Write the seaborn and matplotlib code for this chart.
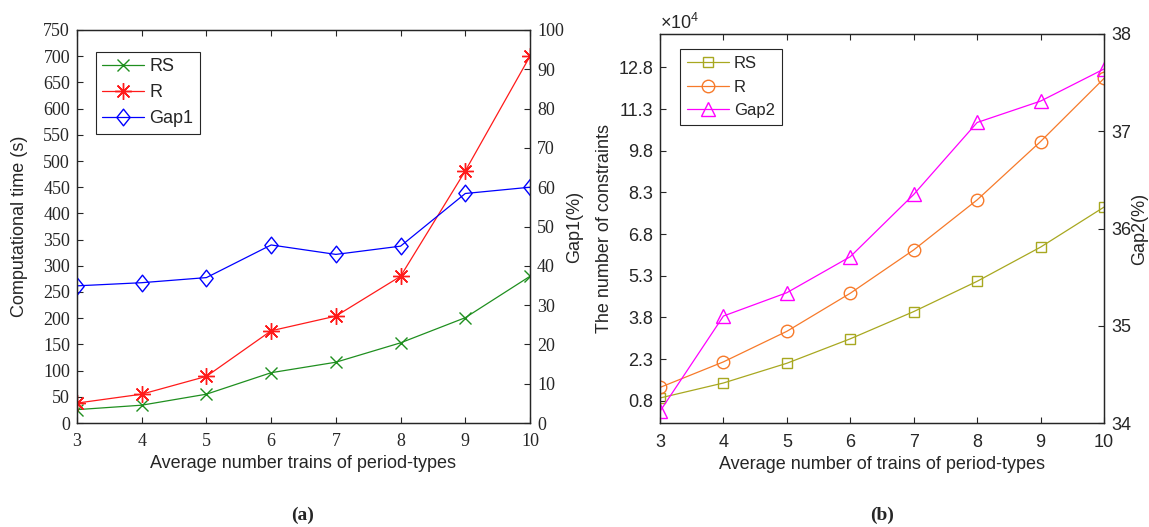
import matplotlib
matplotlib.use("Agg")
import matplotlib.pyplot as plt
from matplotlib.path import Path
import seaborn as sns

# ---- data -------------------------------------------------------------
trains = [3, 4, 5, 6, 7, 8, 9, 10]

# (a) computational time (s) and Gap1 (%)
time_rs = [25.5, 34, 55, 96, 116, 153, 201, 280]
time_r = [38, 55, 89, 176, 204, 280, 481, 700]
gap1 = [34.9, 35.7, 37.0, 45.3, 42.9, 45.0, 58.4, 60.0]

# (b) number of constraints (x10^4) and Gap2 (%)
cons_rs = [0.90, 1.44, 2.15, 3.03, 4.01, 5.10, 6.33, 7.77]
cons_r = [1.28, 2.20, 3.30, 4.67, 6.23, 8.03, 10.13, 12.40]
gap2 = [34.12, 35.10, 35.34, 35.71, 36.35, 37.09, 37.31, 37.64]

left_ticks_a = list(range(0, 751, 50))
right_ticks_a = list(range(0, 101, 10))
left_ticks_b = [0.8, 2.3, 3.8, 5.3, 6.8, 8.3, 9.8, 11.3, 12.8]
right_ticks_b = [34, 35, 36, 37, 38]

# ---- style ------------------------------------------------------------
sns.set_style("ticks")
plt.rcParams["font.family"] = ["Liberation Sans", "DejaVu Sans"]
plt.rcParams["mathtext.fontset"] = "custom"
plt.rcParams["mathtext.rm"] = "Liberation Sans"
plt.rcParams["mathtext.it"] = "Liberation Sans:italic"

AX_COLOR = "#262626"
SERIF = ["Liberation Serif", "DejaVu Serif"]

# a slightly tall diamond, like the classic MATLAB 'd' marker
DIAMOND = Path([(0, 1), (0.8, 0), (0, -1), (-0.8, 0), (0, 1)],
               [Path.MOVETO, Path.LINETO, Path.LINETO, Path.LINETO, Path.CLOSEPOLY])

fig = plt.figure(figsize=(11.49, 5.27), dpi=100)
W, H = 1149, 527


def px_axes(x0, y0, x1, y1):
    return fig.add_axes([x0 / W, 1 - y1 / H, (x1 - x0) / W, (y1 - y0) / H])


def style_box(ax):
    for sp in ax.spines.values():
        sp.set_visible(True)
        sp.set_color(AX_COLOR)
        sp.set_linewidth(0.9)


def draw(ax, y, color, marker, ms, label, mew=1.0):
    sns.lineplot(x=trains, y=y, ax=ax, color=color, marker=marker,
                 markersize=ms, markerfacecolor="none", markeredgecolor=color,
                 markeredgewidth=mew, linewidth=0.9, label=label, legend=False)


# ---- panel (a) --------------------------------------------------------
ax1 = px_axes(77, 30, 530, 423)
ax1b = ax1.twinx()

c_rs_a, c_r_a, c_gap1 = "#1f8f1f", "#ff1a1a", "#0000ff"
draw(ax1, time_rs, c_rs_a, "x", 9, "RS")
draw(ax1, time_r, c_r_a, (8, 2, 0), 12, "R")
draw(ax1b, gap1, c_gap1, DIAMOND, 12, "Gap1")

ax1.set_xlim(3, 10)
ax1.set_ylim(0, 750)
ax1b.set_ylim(0, 100)
ax1.set_xticks(trains)
ax1.set_yticks(left_ticks_a)
ax1b.set_yticks(right_ticks_a)
ax1.tick_params(axis="both", direction="in", length=4, width=0.8, color=AX_COLOR,
                top=True, right=False, labelsize=13, pad=5)
ax1.tick_params(axis="x", pad=7)
ax1b.tick_params(axis="y", direction="in", length=4, width=0.8, color=AX_COLOR,
                 right=True, left=False, labelsize=13, pad=5)
for lab in ax1.get_xticklabels() + ax1.get_yticklabels() + ax1b.get_yticklabels():
    lab.set_fontfamily(SERIF)

ax1.set_xlabel("Average number trains of period-types", fontsize=13)
ax1.set_ylabel("Computational time (s)", fontsize=13)
ax1b.set_ylabel("Gap1(%)", fontsize=13)
ax1.xaxis.set_label_coords(0.5, -0.104)
ax1.xaxis.label.set_va("center")
ax1.yaxis.set_label_coords(-0.128, 0.5)
ax1.yaxis.label.set_va("center")
ax1b.yaxis.set_label_coords(1.099, 0.5)
ax1b.yaxis.label.set_va("center")
style_box(ax1)
style_box(ax1b)

h_a = ax1.get_lines() + ax1b.get_lines()
ax1b.legend(h_a, ["RS", "R", "Gap1"], loc="upper left",
            bbox_to_anchor=(0.042, 0.944), borderaxespad=0, fontsize=13,
            handlelength=2.3, handletextpad=0.3, labelspacing=0.5,
            borderpad=0.35, fancybox=False, framealpha=1,
            edgecolor=AX_COLOR).get_frame().set_linewidth(0.8)

fig.text(303 / W, 1 - 515 / H, "(a)", ha="center", va="center",
         fontsize=14, fontweight="bold", family=SERIF)

# ---- panel (b) --------------------------------------------------------
ax2 = px_axes(660, 34, 1104, 423)
ax2b = ax2.twinx()

c_rs_b, c_r_b, c_gap2 = "#a8a820", "#f77a2a", "#ff00ff"
draw(ax2, cons_rs, c_rs_b, "s", 7.5, "RS")
draw(ax2, cons_r, c_r_b, "o", 9, "R")
draw(ax2b, gap2, c_gap2, "^", 10, "Gap2")

ax2.set_xlim(3, 10)
ax2.set_ylim(0, 14)
ax2b.set_ylim(34, 38)
ax2.set_xticks(trains)
ax2.set_yticks(left_ticks_b)
ax2.set_yticklabels([f"{v:.1f}" for v in left_ticks_b])
ax2b.set_yticks(right_ticks_b)
ax2.tick_params(axis="both", direction="in", length=4, width=0.8, color=AX_COLOR,
                top=True, right=False, labelsize=13, pad=5)
ax2.tick_params(axis="x", pad=8)
ax2b.tick_params(axis="y", direction="in", length=4, width=0.8, color=AX_COLOR,
                 right=True, left=False, labelsize=13, pad=5)

ax2.set_xlabel("Average number of trains of period-types", fontsize=13)
ax2.set_ylabel("The number of constraints", fontsize=13)
ax2b.set_ylabel("Gap2(%)", fontsize=13)
ax2.xaxis.set_label_coords(0.5, -0.106)
ax2.xaxis.label.set_va("center")
ax2.yaxis.set_label_coords(-0.124, 0.5)
ax2.yaxis.label.set_va("center")
ax2b.yaxis.set_label_coords(1.081, 0.5)
ax2b.yaxis.label.set_va("center")
style_box(ax2)
style_box(ax2b)

ax2.text(0.0, 1.028, r"$\times10^{4}$", transform=ax2.transAxes,
         ha="left", va="center", fontsize=13, color=AX_COLOR)

h_b = ax2.get_lines() + ax2b.get_lines()
ax2b.legend(h_b, ["RS", "R", "Gap2"], loc="upper left",
            bbox_to_anchor=(0.045, 0.961), borderaxespad=0, fontsize=12,
            handlelength=2.5, handletextpad=0.3, labelspacing=0.5,
            borderpad=0.42, fancybox=False, framealpha=1,
            edgecolor=AX_COLOR).get_frame().set_linewidth(0.8)

fig.text(882 / W, 1 - 515 / H, "(b)", ha="center", va="center",
         fontsize=14, fontweight="bold", family=SERIF)

fig.savefig("out.png", dpi=100, facecolor="white")
